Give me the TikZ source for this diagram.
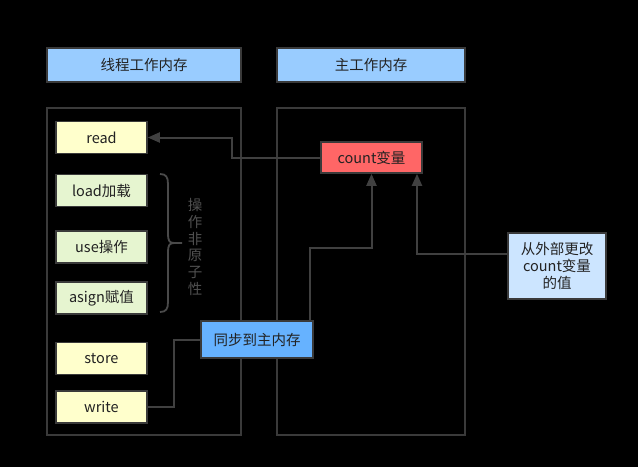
\documentclass[tikz,border=0pt]{standalone}
\usepackage{fontspec}
\setmainfont{Noto Sans CJK SC}
\usetikzlibrary{arrows.meta,calc}
\definecolor{hdrblue}{HTML}{99CCFF}
\definecolor{opyellow}{HTML}{FFFFCC}
\definecolor{opgreen}{HTML}{E6F5D0}
\definecolor{cntred}{HTML}{FF6666}
\definecolor{syncblue}{HTML}{66B2FF}
\definecolor{extblue}{HTML}{CCE5FF}
\definecolor{edgegray}{HTML}{404040}
\definecolor{framegray}{HTML}{3A3A3A}
\definecolor{txtdark}{HTML}{222222}
\definecolor{bracegray}{HTML}{4A4A4A}
\definecolor{lblgray}{HTML}{505050}
\tikzset{
  box/.style={draw=framegray, line width=1.6pt, inner sep=0pt, font=\fontsize{14.5}{17}\selectfont, text=txtdark, align=center},
  hdr/.style={box, fill=hdrblue, minimum height=34pt},
  frame/.style={box, minimum height=327pt},
  ybox/.style={box, fill=opyellow, minimum width=91pt, minimum height=32pt},
  gbox/.style={box, fill=opgreen, minimum width=91pt, minimum height=32pt},
  conn/.style={draw=edgegray, line width=2pt},
  arr/.style={conn, -{Triangle[width=10pt,length=12pt]}},
}
\begin{document}
\begin{tikzpicture}[x=1pt,y=-1pt]
\fill[black] (0,0) rectangle (638,467);
\useasboundingbox (0,0) rectangle (638,467);
% headers
\node[hdr, minimum width=194pt] (h1) at (144,65) {线程工作内存};
\node[hdr, minimum width=188pt] (h2) at (371,65) {主工作内存};
% frames
\node[frame, minimum width=194pt] (f1) at (144,271.5) {};
\node[frame, minimum width=188pt] (f2) at (371,271.5) {};
% operations
\node[ybox] (read) at (101.5,137.5) {read};
\node[gbox] (load) at (101.5,190.5) {load加载};
\node[gbox] (use) at (101.5,247) {use操作};
\node[gbox] (asign) at (101.5,298) {asign赋值};
\node[ybox] (store) at (101.5,358.5) {store};
\node[ybox] (write) at (101.5,407) {write};
% brace and label
\draw[draw=bracegray, line width=1.8pt, line join=round]
  (160,174) .. controls (166,174) and (168,177) .. (168,184) -- (168,234)
  .. controls (168,240) and (169,243) .. (174,243) -- (182,243);
\draw[draw=bracegray, line width=1.8pt, line join=round]
  (160,312) .. controls (166,312) and (168,309) .. (168,302) -- (168,252)
  .. controls (168,246) and (169,243) .. (174,243);
\node[font=\fontsize{14.5}{16.7}\selectfont, text=lblgray, align=center] (lbl) at (195,247) {操\\作\\非\\原\\子\\性};
% main memory
\node[box, fill=cntred, minimum width=101pt, minimum height=31pt] (count) at (371.5,157.5) {count变量};
\node[box, fill=syncblue, minimum width=112pt, minimum height=37pt] (sync) at (257,339.5) {同步到主内存};
\node[box, fill=extblue, minimum width=98pt, minimum height=66pt, text width=90pt] (ext) at (557,266) {从外部更改\\count变量\\的值};
% connectors
\draw[arr] (count.west) -- ++(-88,0) |- (read.east);
\draw[conn] (write.east) -- ++(26,0) |- (sync.west);
\draw[arr] ([xshift=53pt]sync.north) |- ([yshift=-74pt]count.south) -- (count.south);
\draw[arr] ([yshift=12pt]ext.west) -| ([xshift=45.5pt]count.south);
\end{tikzpicture}
\end{document}
